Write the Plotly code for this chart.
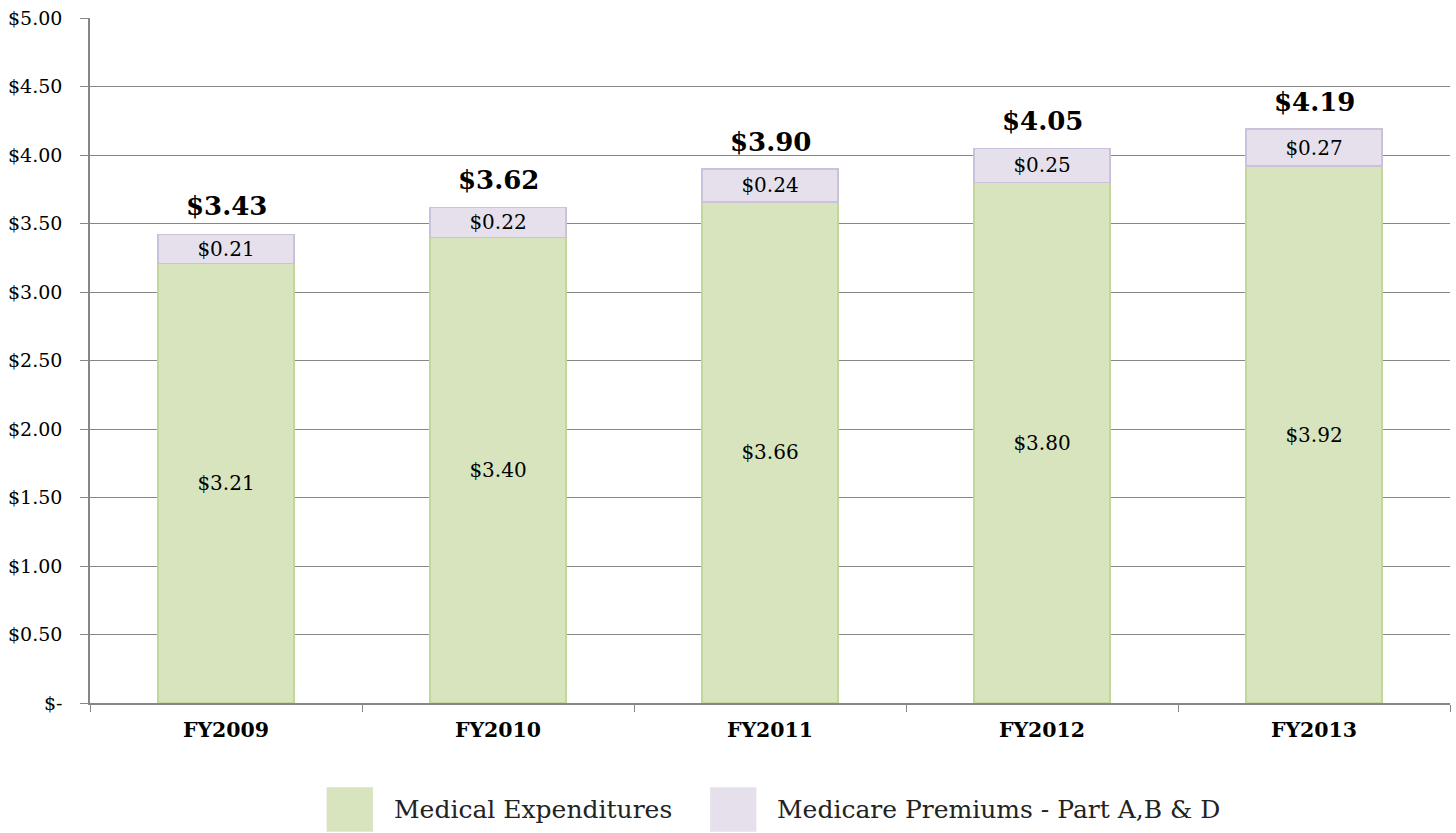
import plotly.graph_objects as go

categories = ["FY2009", "FY2010", "FY2011", "FY2012", "FY2013"]
medical = [3.21, 3.40, 3.66, 3.80, 3.92]
premiums = [0.21, 0.22, 0.24, 0.25, 0.27]
totals = [3.43, 3.62, 3.90, 4.05, 4.19]
series_names = ["Medical Expenditures", "Medicare Premiums - Part A,B & D"]
tick_vals = [0, 0.5, 1.0, 1.5, 2.0, 2.5, 3.0, 3.5, 4.0, 4.5, 5.0]
tick_text = ["$-", "$0.50", "$1.00", "$1.50", "$2.00", "$2.50", "$3.00", "$3.50", "$4.00", "$4.50", "$5.00"]

FONT = "DejaVu Serif"
green = "#d7e4bd"
green_line = "#c3d69b"
purple = "#e5e0ec"
purple_line = "#ccc1da"

fig = go.Figure()
fig.add_trace(go.Bar(
    x=categories, y=medical, name=series_names[0],
    marker=dict(color=green, line=dict(color=green_line, width=1.5)),
    text=[f"${v:.2f}" for v in medical], textposition="inside",
    insidetextanchor="middle", textfont=dict(family=FONT, size=20, color="black"),
    showlegend=False,
))
fig.add_trace(go.Bar(
    x=categories, y=premiums, name=series_names[1],
    marker=dict(color=purple, line=dict(color=purple_line, width=1.5)),
    text=[f"${v:.2f}" for v in premiums], textposition="inside",
    insidetextanchor="middle", textfont=dict(family=FONT, size=20, color="black"),
    showlegend=False,
))

for cat, tot in zip(categories, totals):
    fig.add_annotation(x=cat, y=tot, text=f"<b>${tot:.2f}</b>", showarrow=False,
                       yanchor="bottom", yshift=10,
                       font=dict(family=FONT, size=26, color="black"))

fig.update_layout(
    barmode="stack", bargap=0.5,
    width=1456, height=833,
    margin=dict(l=90, r=6, t=18, b=130, autoexpand=False),
    plot_bgcolor="white", paper_bgcolor="white",
    font=dict(family=FONT, size=20, color="black"),
    uniformtext=dict(minsize=20, mode="show"),
    xaxis=dict(
        showline=True, linecolor="#868686", linewidth=1.5,
        ticks="outside", tickson="boundaries", ticklen=7, tickcolor="#868686",
        tickfont=dict(family=FONT, size=20.5, color="black"),
        tickprefix="<b>", ticksuffix="</b>", ticklabelstandoff=8,
        showgrid=False, automargin=False,
    ),
    yaxis=dict(
        range=[0, 5.002], tickvals=tick_vals, ticktext=tick_text,
        showline=True, linecolor="#868686", linewidth=1.5,
        ticks="outside", ticklen=8, tickcolor="#868686",
        showgrid=True, gridcolor="#868686", gridwidth=1.4,
        zeroline=False, ticklabeloverflow="allow", ticklabelstandoff=14,
        tickfont=dict(family=FONT, size=19, color="black"),
        automargin=False,
    ),
    showlegend=False,
)

# custom legend with large swatches
legend_items = [(series_names[0], green, 0.174), (series_names[1], purple, 0.456)]
for name, col, x0 in legend_items:
    fig.add_shape(type="rect", xref="paper", yref="paper",
                  x0=x0, x1=x0 + 0.034, y0=-0.188, y1=-0.123,
                  fillcolor=col, line=dict(width=0))
    fig.add_annotation(xref="paper", yref="paper", x=x0 + 0.048, y=-0.156,
                       text=name, showarrow=False, xanchor="left", yanchor="middle",
                       font=dict(family=FONT, size=25, color="#222"))

fig.write_html("out.html", config={"displayModeBar": False},
               post_script="document.body.style.margin='0px';")
